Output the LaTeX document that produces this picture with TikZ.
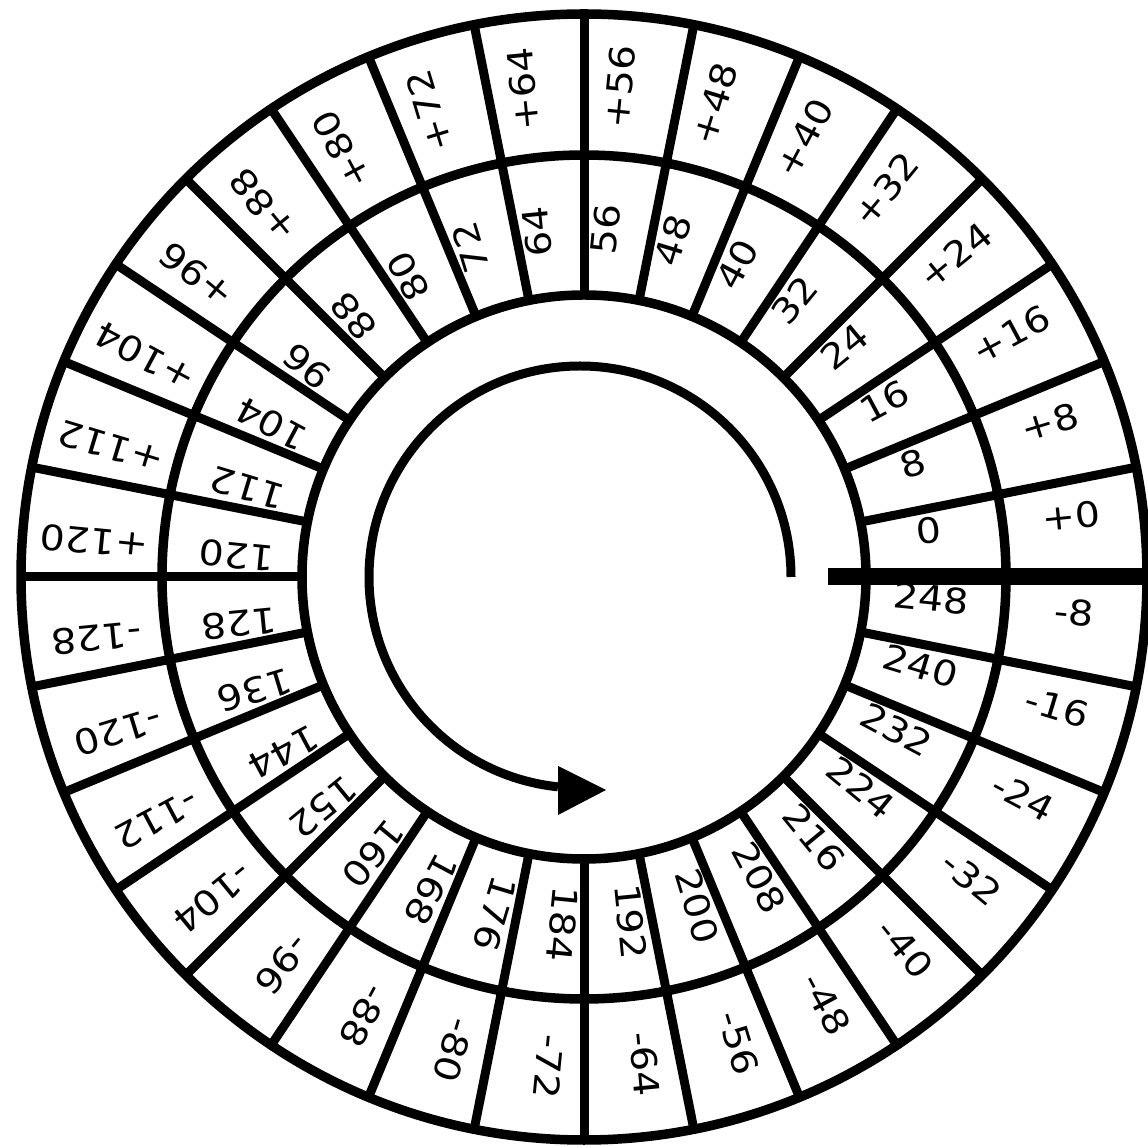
\documentclass[tikz,border=0pt]{standalone}
\usepackage{fontspec}
\setmainfont{DejaVu Sans}
\usepackage{xcolor}
\usetikzlibrary{calc}
\definecolor{ink}{HTML}{000000}
\definecolor{paper}{HTML}{FFFFFF}
\tikzset{
  ring/.style={draw=ink, line width=9.5pt},
  spoke/.style={draw=ink, line width=9pt},
  zeroline/.style={draw=ink, line width=17pt},
  turn/.style={draw=ink, line width=9pt},
  lab/.style={text=ink, font=\fontsize{35}{40}\selectfont, inner sep=0pt, anchor=base},
}

\begin{document}
\begin{tikzpicture}[x=1pt,y=1pt]
  \useasboundingbox[fill=paper] (0,0) rectangle (1148,1146);
  \coordinate (c) at (584,569);
  \coordinate (a) at (580,569);
  % rings
  \draw[ring] (c) circle (282);
  \draw[ring] (c) circle (422);
  \draw[ring] (c) circle (563);
  % spokes
  \foreach \k in {1,...,31}
    \draw[spoke] ($(c)+(\k*11.25:282)$) -- ($(c)+(\k*11.25:563)$);
  \coordinate (zs) at ($(c)+(244,0)$);
  \coordinate (ze) at (1148,569);
  \draw[zeroline] (zs) -- (ze);
  % labels
  \foreach \k in {0,...,31}{
    \pgfmathsetmacro{\ang}{\k*11.25+5.625}
    \pgfmathtruncatemacro{\posval}{8*\k}
    \pgfmathtruncatemacro{\negval}{256-8*\k}
    \node[lab, rotate=\ang, xscale=1.13] (in\k) at ($(c)+(\ang:348)$) {\posval};
    \ifnum\k<16
      \node[lab, rotate=\ang, xscale=1.13] (out\k) at ($(c)+(\ang:491)$) {+\posval};
    \else
      \node[lab, rotate=\ang, xscale=1.13] (out\k) at ($(c)+(\ang:491)$) {-\negval};
    \fi
  }
  % direction
  \draw[turn] ($(a)+(211,0)$) arc[start angle=0, end angle=264, radius=211];
  \fill[ink] (558,380) -- (606,356) -- (558,331) -- cycle;
\end{tikzpicture}
\end{document}
